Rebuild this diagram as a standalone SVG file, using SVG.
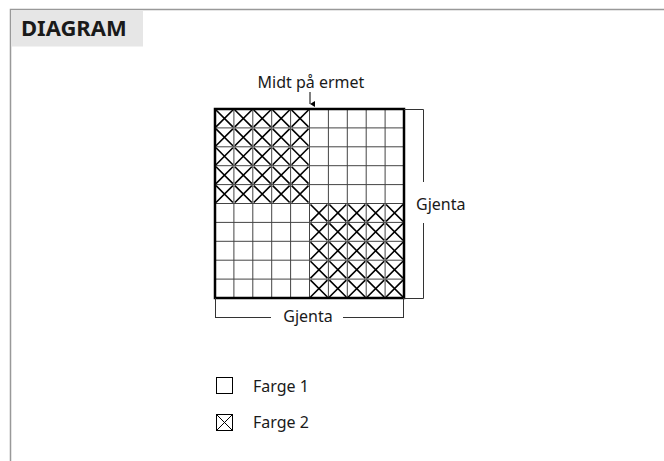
<svg xmlns="http://www.w3.org/2000/svg" width="664" height="461" viewBox="0 0 664 461">
<style>
.lbl{font-family:"Noto Sans","Open Sans","Liberation Sans",sans-serif;font-size:16px;fill:#1a1a1a}
.hdr{font-family:"Noto Sans","Open Sans","Liberation Sans",sans-serif;font-size:22px;font-weight:bold;fill:#1a1a1a}
.thin{stroke:#444;stroke-width:1;fill:none}
.x{stroke:#000;stroke-width:1.6;fill:none}
.brk{stroke:#333;stroke-width:1;fill:none}
</style>
<defs>
<g id="xc"><path class="x" d="M1 1L17.9 17.9M17.9 1L1 17.9"/></g>
<marker id="ah" markerWidth="6" markerHeight="6" refX="3" refY="5" orient="auto-start-reverse" markerUnits="userSpaceOnUse"><path d="M0 0L3 5L6 0Z" fill="#000"/></marker>
</defs>
<rect x="0" y="0" width="664" height="461" fill="#fff"/>
<g id="frame">
<path d="M10.5 461V9.5H664" stroke="#999" stroke-width="1.5" fill="none"/>
<rect x="11" y="10" width="132" height="36.5" fill="#e6e6e6"/>
<text class="hdr" x="21" y="36">DIAGRAM</text>
</g>
<g id="grid">
<path class="thin" d="M233.9 109V298M252.8 109V298M271.7 109V298M290.6 109V298M309.5 109V298M328.4 109V298M347.3 109V298M366.2 109V298M385.1 109V298
M215 127.9H404M215 146.8H404M215 165.7H404M215 184.6H404M215 203.5H404M215 222.4H404M215 241.3H404M215 260.2H404M215 279.1H404"/>
<g id="crossTL">
<use href="#xc" x="215" y="109"/><use href="#xc" x="233.9" y="109"/><use href="#xc" x="252.8" y="109"/><use href="#xc" x="271.7" y="109"/><use href="#xc" x="290.6" y="109"/>
<use href="#xc" x="215" y="127.9"/><use href="#xc" x="233.9" y="127.9"/><use href="#xc" x="252.8" y="127.9"/><use href="#xc" x="271.7" y="127.9"/><use href="#xc" x="290.6" y="127.9"/>
<use href="#xc" x="215" y="146.8"/><use href="#xc" x="233.9" y="146.8"/><use href="#xc" x="252.8" y="146.8"/><use href="#xc" x="271.7" y="146.8"/><use href="#xc" x="290.6" y="146.8"/>
<use href="#xc" x="215" y="165.7"/><use href="#xc" x="233.9" y="165.7"/><use href="#xc" x="252.8" y="165.7"/><use href="#xc" x="271.7" y="165.7"/><use href="#xc" x="290.6" y="165.7"/>
<use href="#xc" x="215" y="184.6"/><use href="#xc" x="233.9" y="184.6"/><use href="#xc" x="252.8" y="184.6"/><use href="#xc" x="271.7" y="184.6"/><use href="#xc" x="290.6" y="184.6"/>
</g>
<g id="crossBR">
<use href="#xc" x="309.5" y="203.5"/><use href="#xc" x="328.4" y="203.5"/><use href="#xc" x="347.3" y="203.5"/><use href="#xc" x="366.2" y="203.5"/><use href="#xc" x="385.1" y="203.5"/>
<use href="#xc" x="309.5" y="222.4"/><use href="#xc" x="328.4" y="222.4"/><use href="#xc" x="347.3" y="222.4"/><use href="#xc" x="366.2" y="222.4"/><use href="#xc" x="385.1" y="222.4"/>
<use href="#xc" x="309.5" y="241.3"/><use href="#xc" x="328.4" y="241.3"/><use href="#xc" x="347.3" y="241.3"/><use href="#xc" x="366.2" y="241.3"/><use href="#xc" x="385.1" y="241.3"/>
<use href="#xc" x="309.5" y="260.2"/><use href="#xc" x="328.4" y="260.2"/><use href="#xc" x="347.3" y="260.2"/><use href="#xc" x="366.2" y="260.2"/><use href="#xc" x="385.1" y="260.2"/>
<use href="#xc" x="309.5" y="279.1"/><use href="#xc" x="328.4" y="279.1"/><use href="#xc" x="347.3" y="279.1"/><use href="#xc" x="366.2" y="279.1"/><use href="#xc" x="385.1" y="279.1"/>
</g>
<rect x="215" y="109" width="189" height="189" fill="none" stroke="#000" stroke-width="2.5"/>
</g>
<g id="label-mid">
<text class="lbl" x="311" y="88" text-anchor="middle">Midt på ermet</text>
</g>
<g id="label-right">
<text class="lbl" x="416" y="210">Gjenta</text>
</g>
<g id="label-bottom">
<text class="lbl" x="308" y="322" text-anchor="middle">Gjenta</text>
</g>
<g id="connectors">
<path d="M310 92V104" stroke="#000" stroke-width="1" marker-end="url(#ah)"/>
<path class="brk" d="M404 109.5H423.5V182M423.5 223V298.5H404"/>
<path class="brk" d="M215.5 298V318M403.5 298V318M215.5 317.5H271M343 317.5H403.5"/>
</g>
<g id="legend">
<g id="leg1">
<rect x="216.5" y="377.5" width="16" height="16" fill="#fff" stroke="#000" stroke-width="1"/>
<text class="lbl" x="253" y="391.5">Farge 1</text>
</g>
<g id="leg2">
<rect x="216.5" y="414.5" width="16" height="16" fill="#fff" stroke="#000" stroke-width="1"/>
<path d="M216.5 414.5L232.5 430.5M232.5 414.5L216.5 430.5" stroke="#000" stroke-width="1"/>
<text class="lbl" x="253" y="428">Farge 2</text>
</g>
</g>
</svg>
